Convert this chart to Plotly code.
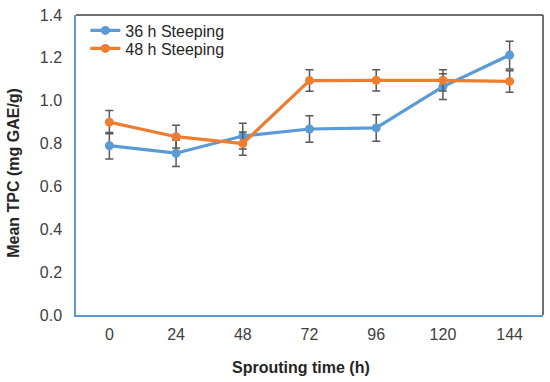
import plotly.graph_objects as go

categories = ["0", "24", "48", "72", "96", "120", "144"]
steep36 = [0.79, 0.755, 0.835, 0.868, 0.873, 1.066, 1.213]
steep36_err = [0.062, 0.062, 0.06, 0.062, 0.062, 0.06, 0.065]
steep48 = [0.90, 0.832, 0.80, 1.094, 1.095, 1.095, 1.09]
steep48_err = [0.054, 0.053, 0.054, 0.05, 0.05, 0.05, 0.05]
y_ticks = [0.0, 0.2, 0.4, 0.6, 0.8, 1.0, 1.2, 1.4]

BLUE = "#5B9BD5"
ORANGE = "#ED7D31"
ERR = "#595959"
FONT = "Liberation Sans, Arial, sans-serif"

fig = go.Figure()
fig.add_trace(go.Scatter(
    x=categories, y=steep36, name="36 h Steeping", mode="lines+markers",
    line=dict(color=BLUE, width=3.2), marker=dict(color=BLUE, size=9),
    error_y=dict(type="data", array=steep36_err, color=ERR, thickness=1.5, width=4),
    legend="legend",
))
fig.add_trace(go.Scatter(
    x=categories, y=steep48, name="48 h Steeping", mode="lines+markers",
    line=dict(color=ORANGE, width=3.2), marker=dict(color=ORANGE, size=9),
    error_y=dict(type="data", array=steep48_err, color=ERR, thickness=1.5, width=4),
    legend="legend2",
))

leg_common = dict(xanchor="left", yanchor="top", bgcolor="rgba(0,0,0,0)",
                  font=dict(size=16, color="#262626"), itemwidth=30)

fig.update_layout(
    width=550, height=382,
    margin=dict(l=76, r=7, t=13, b=67),
    paper_bgcolor="white", plot_bgcolor="white",
    font=dict(family=FONT, size=16, color="#404040"),
    showlegend=True,
    legend=dict(x=0.02, y=1.005, **leg_common),
    legend2=dict(x=0.02, y=0.945, **leg_common),
    xaxis=dict(type="category", categoryorder="array", categoryarray=categories,
               range=[-0.5, 6.5], showgrid=False, zeroline=False,
               showline=True, linecolor=BLUE, linewidth=1.5,
               ticks="outside", ticklen=4, tickcolor="rgba(0,0,0,0)",
               tickfont=dict(size=16, color="#404040")),
    yaxis=dict(range=[0, 1.4], tickvals=y_ticks, tickformat=".1f",
               showgrid=False, zeroline=False,
               showline=True, linecolor=BLUE, linewidth=1.5,
               ticks="outside", ticklen=9, tickcolor="rgba(0,0,0,0)",
               tickfont=dict(size=16, color="#404040")),
    shapes=[
        dict(type="line", xref="paper", yref="paper", x0=0, x1=1, y0=1, y1=1,
             line=dict(color="#404040", width=1.5)),
        dict(type="line", xref="paper", yref="paper", x0=1, x1=1, y0=0, y1=1,
             line=dict(color="#404040", width=1.5)),
    ],
    annotations=[
        dict(text="<b>Sprouting time (h)</b>", xref="paper", yref="paper",
             x=0.482, y=-0.175, xanchor="center", yanchor="middle",
             showarrow=False, font=dict(size=16, color="#262626")),
        dict(text="<b>Mean TPC (mg GAE/g)</b>", xref="paper", yref="paper",
             x=-0.133, y=0.4735, xanchor="center", yanchor="middle", textangle=-90,
             showarrow=False, font=dict(size=16, color="#262626")),
    ],
)

fig.write_html("out.html", config={"displayModeBar": False},
               post_script="document.body.style.margin='0';document.body.style.padding='0';")
